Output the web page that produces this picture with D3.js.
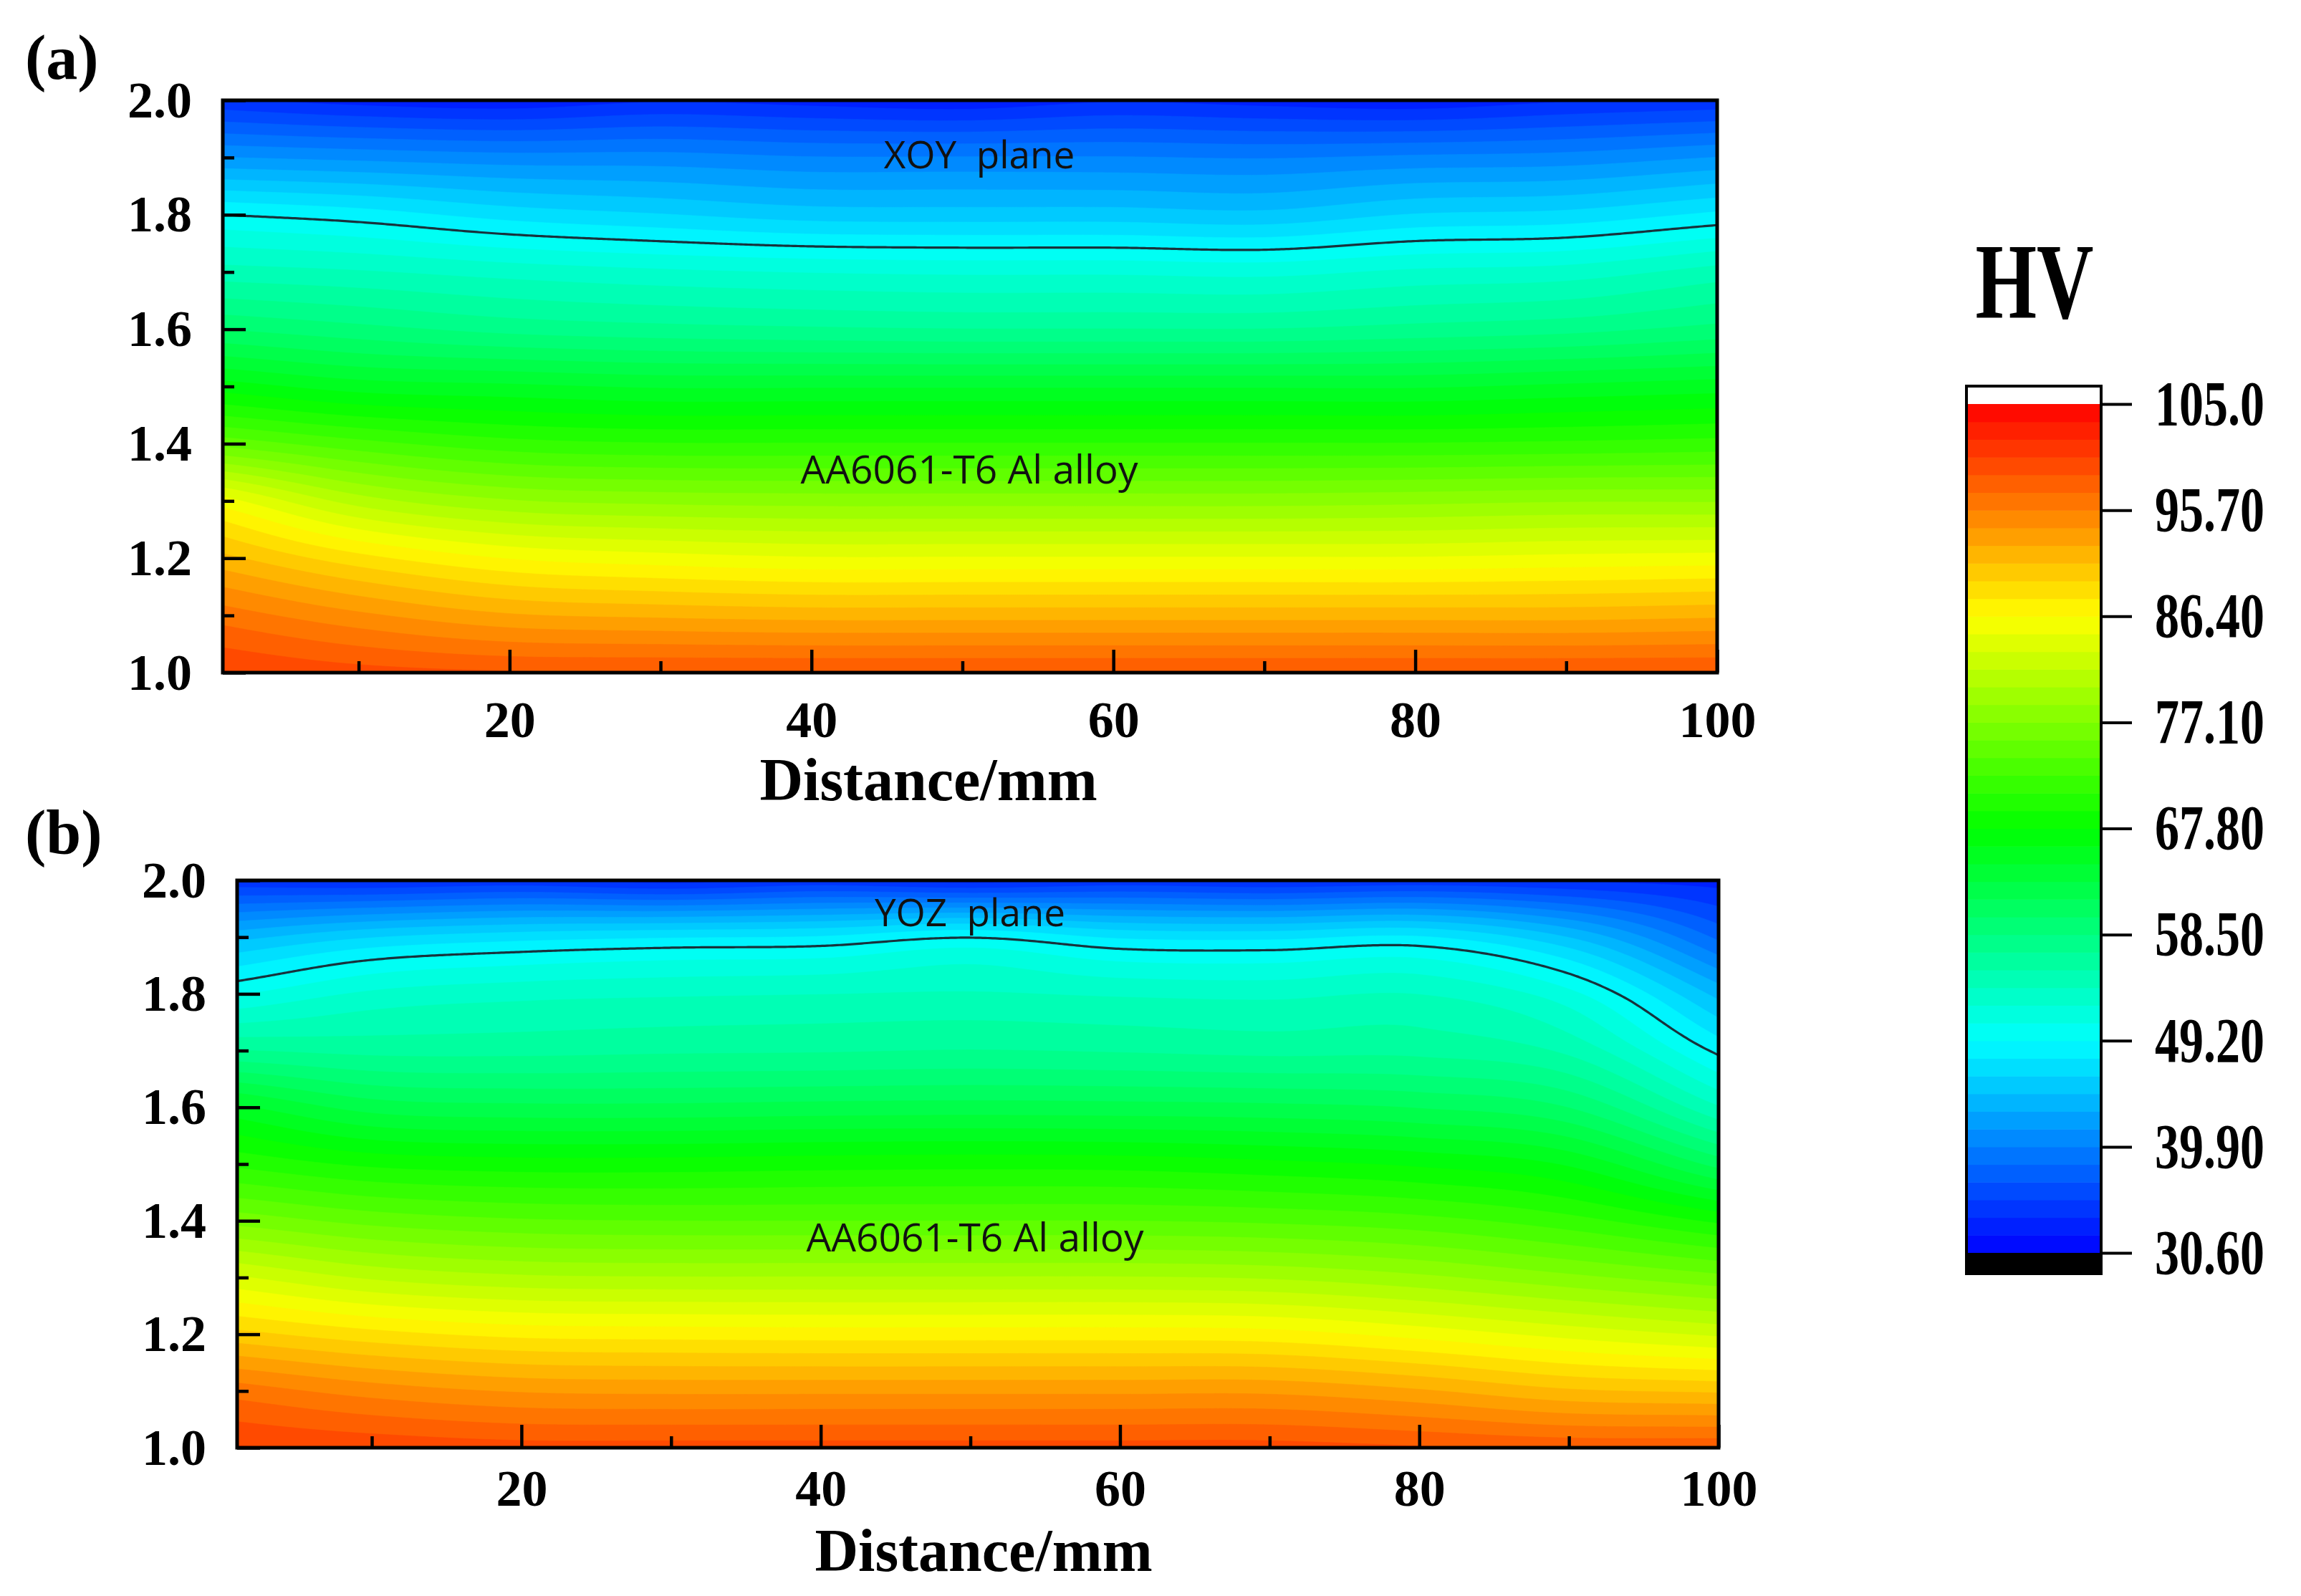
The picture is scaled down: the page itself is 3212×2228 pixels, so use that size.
<!DOCTYPE html>
<html><head><meta charset="utf-8">
<script src="https://cdn.jsdelivr.net/npm/d3@7"></script>
<style>body{margin:0;background:#fff}svg{display:block}</style>
</head><body>
<svg id="c" width="3212" height="2228"></svg>
<script>
// ---------------- data ----------------
const xPositions = [1, 10, 20, 30, 40, 50, 60, 70, 80, 90, 100];      // Distance / mm
const yPositions = [2.0, 1.9, 1.8, 1.7, 1.6, 1.5, 1.4, 1.3, 1.2, 1.1, 1.0]; // depth rows (top to bottom)

// HV, XOY plane: rows follow yPositions, columns follow xPositions
const hvXOY = [
  [34.0, 33.0, 32.5, 33.5, 33.0, 32.5, 33.5, 33.0, 32.5, 33.5, 34.0],
  [41.5, 41.0, 40.5, 40.5, 40.0, 40.0, 40.0, 39.8, 40.2, 40.5, 41.5],
  [49.2, 48.4, 47.0, 46.2, 45.4, 45.3, 45.3, 45.0, 46.2, 46.6, 48.0],
  [54.5, 54.0, 53.2, 52.6, 52.2, 52.0, 52.0, 51.8, 52.6, 53.0, 54.5],
  [60.0, 59.0, 58.0, 57.5, 57.2, 57.0, 57.0, 57.0, 57.5, 58.0, 59.0],
  [67.0, 65.5, 65.0, 64.5, 64.5, 64.5, 64.5, 64.5, 64.5, 65.0, 65.5],
  [75.0, 73.0, 71.5, 71.0, 71.0, 71.0, 71.0, 71.0, 71.0, 71.2, 71.5],
  [85.5, 81.0, 78.8, 78.2, 78.0, 78.0, 78.0, 78.0, 78.2, 78.5, 78.5],
  [91.5, 88.5, 86.3, 85.5, 85.0, 85.0, 85.0, 85.0, 85.0, 85.3, 85.5],
  [96.5, 94.5, 92.8, 92.3, 92.0, 92.0, 92.0, 92.0, 92.0, 92.0, 92.3],
  [100.5, 99.5, 99.0, 99.0, 99.0, 99.0, 99.0, 99.0, 99.0, 99.0, 99.0]
];

// HV, YOZ plane
const hvYOZ = [
  [34.0, 33.5, 34.0, 33.0, 34.0, 33.0, 34.0, 33.5, 34.0, 33.5, 33.0],
  [44.0, 46.0, 47.0, 47.5, 47.8, 49.1, 47.4, 47.2, 47.8, 44.5, 38.0],
  [50.6, 52.6, 53.3, 53.6, 53.8, 54.0, 53.6, 53.4, 53.8, 51.2, 44.0],
  [57.0, 56.5, 56.5, 56.7, 56.8, 57.0, 56.8, 56.5, 56.5, 55.0, 48.8],
  [65.0, 62.5, 62.0, 62.0, 62.2, 62.3, 62.2, 62.0, 61.5, 60.0, 54.0],
  [70.5, 69.0, 68.5, 68.5, 68.7, 68.8, 68.7, 68.2, 67.5, 66.0, 61.0],
  [76.5, 75.0, 74.2, 74.0, 74.0, 74.0, 74.0, 73.7, 73.0, 71.5, 69.0],
  [83.5, 81.5, 80.5, 80.3, 80.3, 80.3, 80.3, 80.0, 79.0, 77.5, 76.0],
  [90.0, 88.5, 87.5, 87.3, 87.2, 87.2, 87.2, 87.0, 85.8, 84.3, 83.0],
  [96.5, 95.0, 94.0, 93.8, 93.8, 93.8, 93.8, 93.8, 92.8, 91.3, 90.8],
  [100.5, 100.0, 99.5, 99.5, 99.5, 99.5, 99.5, 99.5, 99.0, 98.5, 98.5]
];

const colorbarTicks  = [105.0, 95.7, 86.4, 77.1, 67.8, 58.5, 49.2, 39.9, 30.6];
const colorbarLabels = ["105.0", "95.70", "86.40", "77.10", "67.80", "58.50", "49.20", "39.90", "30.60"];
const colorStops     = [30.6, 49.2, 67.8, 86.4, 105.0];
const colorStopHues  = ["#0000ff", "#00ffff", "#00ff00", "#ffff00", "#ff0000"];
const xMajorTicks = [20, 40, 60, 80, 100];
const xMinorTicks = [10, 30, 50, 70, 90];
const yMajorTicks = [1.0, 1.2, 1.4, 1.6, 1.8, 2.0];
const yMinorTicks = [1.1, 1.3, 1.5, 1.7, 1.9];
const panelTags   = ["(a)", "(b)"];
const planeNames  = ["XOY  plane", "YOZ  plane"];
const materialName = "AA6061-T6 Al alloy";
const axisTitle   = "Distance/mm";
const colorbarTitle = "HV";
const isoLevel = 49.2;
const hvMin = 30.6, hvMax = 105.0, nLevels = 48;

// ---------------- layout ----------------
const panels = [
  {grid: hvXOY, left: 311, right: 2397, top: 140, bottom: 939, tickPad: 39,
   tag: [35, 110], plane: [1367, 235], mat: [1353, 675], title: [1296, 1117]},
  {grid: hvYOZ, left: 331, right: 2399, top: 1229, bottom: 2021, tickPad: 30,
   tag: [35, 1192], plane: [1354, 1293], mat: [1361, 1747], title: [1373, 2193]}
];
const CB = {left: 2745, right: 2933, top: 539, low: 564, high: 1749, bottom: 1778};

const svg = d3.select("#c");
const serif = "'Liberation Serif','Times New Roman',serif";
const sans = "'Open Sans','Noto Sans',sans-serif";

const step = (hvMax - hvMin) / nLevels;
const levels = d3.range(nLevels).map(k => hvMin + k * step);
const color = d3.scaleLinear().domain(colorStops).range(colorStopHues).clamp(true);
const bandColor = v => color(Math.min(hvMax, v + step / 2));

function hermite(xs, vs, x) {
  const n = xs.length;
  let i = 0;
  while (i < n - 2 && x > xs[i + 1]) i++;
  const x0 = xs[i], x1 = xs[i + 1], h = x1 - x0, t = (x - x0) / h;
  const slope = k => k === 0 ? (vs[1] - vs[0]) / (xs[1] - xs[0])
    : k === n - 1 ? (vs[n - 1] - vs[n - 2]) / (xs[n - 1] - xs[n - 2])
    : (vs[k + 1] - vs[k - 1]) / (xs[k + 1] - xs[k - 1]);
  const m0 = slope(i) * h, m1 = slope(i + 1) * h;
  const t2 = t * t, t3 = t2 * t;
  return (2 * t3 - 3 * t2 + 1) * vs[i] + (t3 - 2 * t2 + t) * m0 + (-2 * t3 + 3 * t2) * vs[i + 1] + (t3 - t2) * m1;
}

const ysAsc = yPositions.slice().reverse();

panels.forEach((P, pi) => {
  const g = svg.append("g");
  const x = d3.scaleLinear().domain([1, 100]).range([P.left, P.right]);
  const y = d3.scaleLinear().domain([1, 2]).range([P.bottom, P.top]);
  const rowsAsc = P.grid.slice().reverse();
  const columnAt = xv => rowsAsc.map(r => hermite(xPositions, r, xv));

  const nx = Math.round((P.right - P.left) / 3), ny = Math.round((P.bottom - P.top) / 3);
  const gx = d3.scaleLinear().domain([0, nx]).range([P.left, P.right]);
  const gy = d3.scaleLinear().domain([0, ny]).range([P.top, P.bottom]);
  const vals = new Float64Array(nx * ny);
  for (let i = 0; i < nx; i++) {
    const col = columnAt(x.invert(gx(i + 0.5)));
    for (let j = 0; j < ny; j++) {
      vals[j * nx + i] = hermite(ysAsc, col, y.invert(gy(j + 0.5)));
    }
  }
  const contours = d3.contours().size([nx, ny]).thresholds(levels)(vals);
  const path = d3.geoPath(d3.geoTransform({point(px, py) { this.stream.point(gx(px), gy(py)); }}));

  const clipId = "clip" + pi;
  g.append("clipPath").attr("id", clipId).append("rect")
    .attr("x", P.left).attr("y", P.top).attr("width", P.right - P.left).attr("height", P.bottom - P.top);
  const fill = g.append("g").attr("clip-path", `url(#${clipId})`);
  fill.append("rect").attr("x", P.left).attr("y", P.top)
    .attr("width", P.right - P.left).attr("height", P.bottom - P.top).attr("fill", bandColor(hvMin));
  fill.selectAll("path.band").data(contours).join("path").attr("class", "band")
    .attr("d", path).attr("fill", d => bandColor(d.value)).attr("stroke", d => bandColor(d.value)).attr("stroke-width", 0.6);

  // iso line
  const iso = [];
  for (let k = 0; k <= 600; k++) {
    const xv = 1 + 99 * k / 600;
    const col = columnAt(xv);
    let prevY = 2.0, prevV = hermite(ysAsc, col, 2.0);
    for (let yv = 1.999; yv >= 1.0; yv -= 0.001) {
      const v = hermite(ysAsc, col, yv);
      if (v >= isoLevel) {
        const f = (isoLevel - prevV) / (v - prevV);
        iso.push([xv, prevY + (yv - prevY) * f]);
        break;
      }
      prevY = yv; prevV = v;
    }
  }
  fill.append("path").datum(iso)
    .attr("d", d3.line().x(d => x(d[0])).y(d => y(d[1])))
    .attr("fill", "none").attr("stroke", "#17323c").attr("stroke-width", 3.2);

  // axes
  const styleAxis = a => {
    a.select(".domain").remove();
    a.selectAll("line").attr("stroke", "#000").attr("stroke-width", 4.5);
    a.selectAll("text").attr("font-family", serif).attr("font-size", 72).attr("font-weight", "bold").attr("fill", "#000");
  };
  g.append("g").attr("transform", `translate(0,${P.bottom})`)
    .call(d3.axisBottom(x).tickValues(xMajorTicks).tickSize(-32).tickPadding(P.tickPad).tickFormat(d3.format("d")))
    .call(styleAxis);
  g.append("g").attr("transform", `translate(0,${P.bottom})`)
    .call(d3.axisBottom(x).tickValues(xMinorTicks).tickSize(-16).tickFormat(""))
    .call(styleAxis);
  g.append("g").attr("transform", `translate(${P.left},0)`)
    .call(d3.axisLeft(y).tickValues(yMajorTicks).tickSize(-32).tickPadding(43).tickFormat(d3.format(".1f")))
    .call(styleAxis);
  g.append("g").attr("transform", `translate(${P.left},0)`)
    .call(d3.axisLeft(y).tickValues(yMinorTicks).tickSize(-16).tickFormat(""))
    .call(styleAxis);

  // frame
  g.append("rect").attr("x", P.left).attr("y", P.top).attr("width", P.right - P.left).attr("height", P.bottom - P.top)
    .attr("fill", "none").attr("stroke", "#000").attr("stroke-width", 5);

  // texts
  g.append("text").attr("x", P.tag[0]).attr("y", P.tag[1]).text(panelTags[pi])
    .attr("font-family", serif).attr("font-size", 88).attr("font-weight", "bold");
  g.append("text").attr("x", P.plane[0]).attr("y", P.plane[1]).text(planeNames[pi])
    .attr("text-anchor", "middle").attr("font-family", sans).attr("font-size", 53).attr("fill", "#111")
    .style("white-space", "pre").attr("xml:space", "preserve");
  g.append("text").attr("x", P.mat[0]).attr("y", P.mat[1]).text(materialName)
    .attr("text-anchor", "middle").attr("font-family", sans).attr("font-size", 55).attr("fill", "#111");
  g.append("text").attr("x", P.title[0]).attr("y", P.title[1]).text(axisTitle)
    .attr("text-anchor", "middle").attr("font-family", serif).attr("font-size", 84).attr("font-weight", "bold");
});

// ---------------- colorbar ----------------
const cb = d3.scaleLinear().domain([hvMin, hvMax]).range([CB.high, CB.low]);
const cbg = svg.append("g");
cbg.append("rect").attr("x", CB.left).attr("y", CB.top).attr("width", CB.right - CB.left)
  .attr("height", CB.low - CB.top).attr("fill", "#fff");
cbg.selectAll("rect.lv").data(levels).join("rect").attr("class", "lv")
  .attr("x", CB.left).attr("width", CB.right - CB.left)
  .attr("y", d => cb(d + step)).attr("height", d => cb(d) - cb(d + step) + 0.6)
  .attr("fill", d => bandColor(d));
cbg.append("rect").attr("x", CB.left).attr("y", CB.high).attr("width", CB.right - CB.left)
  .attr("height", CB.bottom - CB.high).attr("fill", "#000");
cbg.append("rect").attr("x", CB.left).attr("y", CB.top).attr("width", CB.right - CB.left)
  .attr("height", CB.bottom - CB.top).attr("fill", "none").attr("stroke", "#000").attr("stroke-width", 4);
const cbAxis = cbg.append("g").attr("transform", `translate(${CB.right},0)`)
  .call(d3.axisRight(cb).tickValues(colorbarTicks).tickSize(43).tickPadding(32)
    .tickFormat((d, i) => colorbarLabels[i]));
cbAxis.select(".domain").remove();
cbAxis.selectAll("line").attr("stroke", "#000").attr("stroke-width", 4);
cbAxis.selectAll("text").attr("font-family", serif).attr("font-size", 68).attr("font-weight", "bold")
  .attr("fill", "#000").attr("transform", "scale(1,1.3)");
svg.append("text").attr("transform", "translate(2840,444) scale(1,1.36)").text(colorbarTitle)
  .attr("text-anchor", "middle").attr("font-family", serif).attr("font-size", 110).attr("font-weight", "bold");
</script>
</body></html>
